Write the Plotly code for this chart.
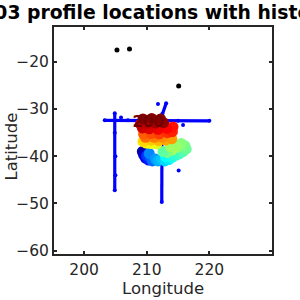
import plotly.graph_objects as go

# historical transects (blue)
h_lon = [203.3, 207.0, 211.0, 215.0, 220.0]
h_lat = [-32.4, -32.4, -32.5, -32.5, -32.5]
v1_lon = [204.9, 204.9, 205.0, 205.0, 204.9]
v1_lat = [-30.9, -35.0, -40.0, -44.0, -47.2]
v2_lon = [212.45, 212.45, 212.4]
v2_lat = [-33.0, -41.0, -49.7]
s_lon = [213.1, 212.5, 212.0]
s_lat = [-28.8, -31.0, -33.0]
hs_lon = [211.8, 205.9, 215.8, 215.1]
hs_lat = [-28.95, -31.8, -33.4, -43.0]

# other points (black)
k_lon = [205.25, 207.25, 215.1]
k_lat = [-17.5, -17.3, -25.1]

# float profiles
prof_no = [8, 14, 22, 30, 36, 42, 47, 52, 56,
           60, 64, 68, 72, 76, 80,
           84, 88, 92, 96, 99, 102, 105, 108, 100, 94, 106,
           118, 122, 126, 130,
           133, 136, 139, 142, 145, 148, 151, 154,
           157, 160, 163, 166, 169, 172, 175, 178, 181, 184,
           187, 190, 193, 196, 198, 199, 200]
prof_lon = [209.3, 209.5, 209.8, 210.3, 210.0, 210.6, 210.9, 210.4, 211.4,
            211.8, 212.3, 212.9, 213.5, 213.0, 214.0,
            214.6, 215.2, 215.8, 216.3, 216.1, 215.5, 214.8, 214.0, 213.3, 212.6, 213.8,
            211.6, 210.7, 209.9, 209.4,
            209.6, 210.7, 211.9, 213.0, 214.0, 212.5, 211.2, 209.8,
            209.5, 210.7, 212.0, 213.3, 214.1, 214.2, 213.2, 211.8, 210.4, 209.3,
            209.0, 210.2, 211.4, 212.7, 212.2, 210.8, 209.4]
prof_lat = [-39.0, -39.7, -40.4, -40.8, -39.9, -40.3, -41.0, -39.4, -40.6,
            -41.0, -40.7, -41.0, -40.7, -40.1, -40.3,
            -39.8, -39.5, -39.0, -38.5, -37.8, -37.3, -38.1, -38.7, -39.2, -39.0, -38.0,
            -37.4, -37.3, -37.2, -36.9,
            -36.8, -36.6, -36.7, -36.6, -36.3, -36.0, -36.0, -36.0,
            -35.3, -35.2, -35.3, -35.0, -34.8, -33.8, -34.1, -34.3, -34.2, -34.0,
            -33.2, -33.0, -33.0, -32.9, -32.1, -32.0, -32.1]
label_text = ["200"]
label_lon = [210.24]
label_lat = [-33.0]

title_text = "5904103 profile locations with historical data"
x_ticks = [200, 210, 220, 230]
y_ticks = [-60, -50, -40, -30, -20]

jet = [[0, "rgb(0,0,128)"], [0.125, "rgb(0,0,255)"], [0.375, "rgb(0,255,255)"],
       [0.625, "rgb(255,255,0)"], [0.875, "rgb(255,0,0)"], [1, "rgb(128,0,0)"]]

fig = go.Figure()
for lo, la in [(h_lon, h_lat), (v1_lon, v1_lat), (v2_lon, v2_lat), (s_lon, s_lat)]:
    fig.add_trace(go.Scatter(x=lo, y=la, mode="lines+markers",
                             line=dict(color="rgb(0,0,255)", width=3.2),
                             marker=dict(color="rgb(0,0,255)", size=4)))
fig.add_trace(go.Scatter(x=hs_lon, y=hs_lat, mode="markers",
                         marker=dict(color="rgb(0,0,255)", size=4)))
fig.add_trace(go.Scatter(x=k_lon, y=k_lat, mode="markers",
                         marker=dict(color="black", size=5)))
fig.add_trace(go.Scatter(x=prof_lon, y=prof_lat, mode="markers",
                         marker=dict(color=prof_no, colorscale=jet, cmin=1, cmax=200,
                                     size=11, line=dict(width=0))))
fig.add_trace(go.Scatter(x=label_lon, y=label_lat, mode="text", text=label_text,
                         textfont=dict(family="DejaVu Sans", size=15, color="rgb(115,0,0)",
                                       weight="bold")))

axis_common = dict(showgrid=False, zeroline=False, showline=True, mirror="ticks",
                   linecolor="#262626", linewidth=2, ticks="inside", ticklen=3,
                   tickcolor="#262626", tickwidth=1.5,
                   tickfont=dict(family="DejaVu Sans", size=15.5, color="#262626"))
fig.update_xaxes(range=[195.2, 230], tickvals=x_ticks, ticktext=["200", "210", "220", ""],
                 **axis_common)
fig.update_yaxes(range=[-60.7, -12.63], tickvals=y_ticks, **axis_common)

fig.update_layout(
    width=300, height=300, showlegend=False,
    margin=dict(l=54, r=28, t=27, b=46),
    plot_bgcolor="white", paper_bgcolor="white",
    annotations=[
        dict(text=title_text, xref="paper", yref="paper", x=(-73 - 54) / 218, xanchor="left",
             y=1 + 14 / 227, yanchor="middle", showarrow=False,
             font=dict(family="DejaVu Sans", size=18.8, color="black", weight="bold")),
        dict(text="Longitude", xref="paper", yref="paper", x=0.5, xanchor="center",
             y=-(288 - 254) / 227, yanchor="middle", showarrow=False,
             font=dict(family="DejaVu Sans", size=16.5, color="#262626")),
        dict(text="Latitude", xref="paper", yref="paper", x=-(54 - 11) / 218, xanchor="center",
             y=0.5 - 6 / 227, yanchor="middle", textangle=-90, showarrow=False,
             font=dict(family="DejaVu Sans", size=16.5, color="#262626")),
    ],
)
fig.write_html("out.html")
